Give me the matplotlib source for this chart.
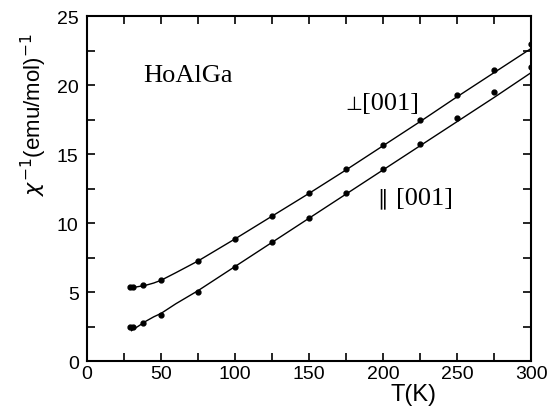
import matplotlib
matplotlib.use("Agg")
import matplotlib.pyplot as plt
from matplotlib.ticker import MultipleLocator
from matplotlib.transforms import ScaledTranslation

# measured points, T in K, inverse susceptibility in emu/mol
t_pts = [29, 31, 38, 50, 75, 100, 125, 150, 175, 200, 225, 250, 275, 300]
perp_pts = [5.38, 5.4, 5.53, 5.87, 7.27, 8.85, 10.5, 12.15, 13.9, 15.65, 17.45, 19.25, 21.1, 23.0]
par_pts = [2.43, 2.47, 2.75, 3.33, 5.0, 6.8, 8.6, 10.35, 12.15, 13.9, 15.75, 17.6, 19.5, 21.3]

# fitted curves
t_fit = [30, 35, 40, 45, 50, 60, 75, 100, 125, 150, 175, 200, 225, 250, 275, 300]
perp_fit = [5.3, 5.4, 5.5, 5.65, 5.85, 6.4, 7.25, 8.85, 10.5, 12.15, 13.85, 15.6, 17.35, 19.15, 20.9, 22.65]
par_fit = [2.2, 2.55, 2.9, 3.2, 3.45, 4.15, 5.1, 6.85, 8.6, 10.35, 12.1, 13.85, 15.6, 17.35, 19.1, 20.9]

fig = plt.figure(figsize=(5.49, 4.10), dpi=100)
ax = fig.add_axes([0.1585, 0.117, 0.809, 0.8415])

ax.plot(t_fit, perp_fit, color="black", lw=1.0)
ax.plot(t_fit, par_fit, color="black", lw=1.0)
ax.plot(t_pts, perp_pts, "o", color="black", ms=3.5)
ax.plot(t_pts, par_pts, "o", color="black", ms=3.5)

ax.set_xlim(0, 300)
ax.set_ylim(0, 25)
ax.xaxis.set_major_locator(MultipleLocator(50))
ax.xaxis.set_minor_locator(MultipleLocator(25))
ax.yaxis.set_major_locator(MultipleLocator(5))
ax.yaxis.set_minor_locator(MultipleLocator(2.5))
ax.tick_params(which="both", direction="in", top=True, right=True, width=1.2)
ax.tick_params(which="major", length=6, labelsize=14)
ax.tick_params(which="minor", length=6)
ax.tick_params(axis="x", pad=3)
ax.tick_params(axis="y", pad=6)
for lab in ax.get_xticklabels() + ax.get_yticklabels():
    lab.set_family("Liberation Sans")
# the "0" under the x axis sits a little right of its tick in the original
xl0 = ax.get_xticklabels()[0]
xl0.set_transform(xl0.get_transform() + ScaledTranslation(0.10, 0, fig.dpi_scale_trans))
for s in ax.spines.values():
    s.set_linewidth(1.5)

ax.set_xlabel("T(K)", fontsize=17, family="Liberation Sans")
ax.xaxis.set_label_coords(0.734, -0.065)
ax.set_ylabel(r"$\chi^{-1}$(emu/mol)$^{-1}$", fontsize=16, family="Liberation Sans")
ax.yaxis.set_label_coords(-0.085, 0.716)

ax.text(38, 20.7, "HoAlGa", family="Liberation Serif", fontsize=19, va="center")

# direction labels: symbol and index set separately to match glyph sizes
ax.text(174.3, 18.25, "\u22a5", family="DejaVu Sans", fontsize=14, va="baseline")
ax.text(185.5, 18.25, "[001]", family="Liberation Serif", fontsize=19, va="baseline")
ax.text(196, 11.85, "\u2225", family="DejaVu Sans", fontsize=15, va="center")
ax.text(209, 11.38, "[001]", family="Liberation Serif", fontsize=19, va="baseline")

fig.savefig("out.png", dpi=100)
